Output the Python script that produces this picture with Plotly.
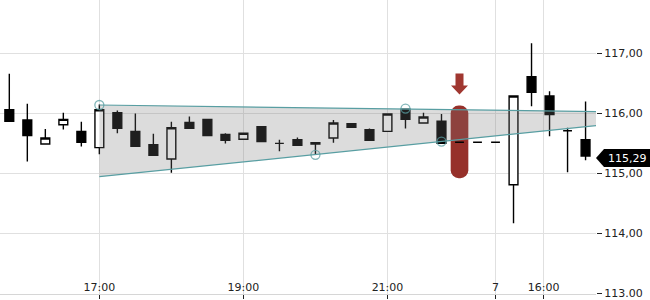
import plotly.graph_objects as go

# ---- data ----
opens  = [116.06, 115.89, 115.49, 115.81, 115.70, 115.43, 116.01, 115.70, 115.48, 115.24,
          115.85, 115.90, 115.65, 115.57, 115.78, 115.50, 115.56, 115.51, 115.59, 115.83,
          115.73, 115.70, 116.07, 115.84, 115.87, 115.52, 115.52, 115.52, 114.81, 116.61,
          116.29, 115.71, 115.56]
highs  = [116.66, 116.16, 115.74, 116.01, 115.86, 116.15, 116.05, 116.00, 115.66, 115.86,
          115.95, 115.90, 115.67, 115.67, 115.78, 115.56, 115.60, 115.51, 115.89, 115.83,
          115.75, 115.99, 116.07, 116.01, 115.99, 115.52, 115.52, 115.52, 116.29, 117.17,
          116.37, 115.76, 116.20]
lows   = [115.87, 115.20, 115.49, 115.73, 115.45, 115.32, 115.67, 115.45, 115.30, 115.01,
          115.75, 115.63, 115.50, 115.57, 115.53, 115.37, 115.46, 115.32, 115.51, 115.77,
          115.55, 115.70, 115.75, 115.84, 115.50, 115.52, 115.52, 115.52, 114.17, 116.12,
          115.62, 115.02, 115.22]
closes = [115.87, 115.63, 115.59, 115.90, 115.52, 116.06, 115.75, 115.45, 115.30, 115.76,
          115.75, 115.63, 115.55, 115.67, 115.53, 115.50, 115.47, 115.49, 115.84, 115.77,
          115.55, 115.99, 115.90, 115.94, 115.50, 115.52, 115.52, 115.52, 116.29, 116.35,
          115.98, 115.71, 115.29]

x_tick_pos = [5, 13, 21, 27, 29.67]
x_tick_text = ["17:00", "19:00", "21:00", "7", "16:00"]
y_tick_vals = [113, 114, 115, 116, 117]
y_tick_text = ["113.00", "114,00", "115,00", "116,00", "117,00"]

channel_x = [5, 33]
channel_top = [116.14, 116.028]
channel_bottom = [114.945, 115.81]

pivot_x = [5, 17, 22, 24]
pivot_y = [116.14, 115.31, 116.08, 115.53]

signal_x = [25]
signal_low = [114.92]
signal_high = [116.13]

last_price = closes[-1]
last_label = "115,29"

# ---- figure ----
idx = list(range(len(opens)))
fig = go.Figure()

# signal marker (rounded bar)
fig.add_trace(go.Bar(
    x=signal_x, y=[h - l for h, l in zip(signal_high, signal_low)], base=signal_low,
    width=0.98, marker=dict(color="rgb(150,48,42)", cornerradius=9, line=dict(width=0)),
    showlegend=False, hoverinfo="skip"))

# channel fill
fig.add_trace(go.Scatter(
    x=channel_x + channel_x[::-1], y=channel_top + channel_bottom[::-1],
    fill="toself", fillcolor="rgba(120,120,120,0.26)", line=dict(width=0),
    mode="lines", showlegend=False, hoverinfo="skip"))
for ys in (channel_top, channel_bottom):
    fig.add_trace(go.Scatter(x=channel_x, y=ys, mode="lines",
                             line=dict(color="rgb(88,158,162)", width=1.2),
                             showlegend=False, hoverinfo="skip"))

fig.add_trace(go.Candlestick(
    x=idx, open=opens, high=highs, low=lows, close=closes,
    increasing=dict(fillcolor="white", line=dict(color="black", width=1.4)),
    decreasing=dict(fillcolor="black", line=dict(color="black", width=1.4)),
    whiskerwidth=0, showlegend=False))

fig.add_trace(go.Scatter(
    x=pivot_x, y=pivot_y, mode="markers",
    marker=dict(size=9, color="rgba(0,0,0,0)",
                line=dict(color="rgba(88,158,162,0.75)", width=1.3)),
    showlegend=False, hoverinfo="skip"))

# down arrow above signal
fig.add_shape(type="path", xref="x", yref="y", xsizemode="pixel", ysizemode="pixel",
              xanchor=signal_x[0], yanchor=signal_high[0],
              path="M -4,32 L 4,32 L 4,20 L 8.5,20 L 0,11 L -8.5,20 L -4,20 Z",
              fillcolor="rgb(160,55,48)", line=dict(width=0), layer="above")

# last price label
fig.add_shape(type="path", xref="paper", yref="y", xsizemode="pixel", ysizemode="pixel",
              xanchor=1, yanchor=last_price,
              path="M 0,-2 L 8,7 L 60,7 L 60,-11 L 8,-11 Z",
              fillcolor="black", line=dict(width=0), layer="above")
fig.add_annotation(xref="paper", yref="y", x=1, y=last_price, xanchor="left",
                   yanchor="middle", xshift=10, yshift=-2, text=last_label,
                   showarrow=False, font=dict(family="DejaVu Sans", size=11, color="white"))

fig.update_layout(
    width=650, height=300,
    margin=dict(l=0, r=54, t=0, b=6),
    paper_bgcolor="white", plot_bgcolor="white",
    font=dict(family="DejaVu Sans", size=11, color="#222"),
    showlegend=False, boxgap=0.3,
    xaxis=dict(type="linear", range=[-0.517, 32.58], tickvals=x_tick_pos, ticktext=x_tick_text,
               showgrid=True, gridcolor="#e0e0e0", gridwidth=1, zeroline=False,
               showline=True, linecolor="#d6d6d6", ticks="outside", ticklen=4,
               tickcolor="#222", ticklabelstandoff=-21, ticklabeloverflow="allow",
               automargin=False, rangeslider=dict(visible=False)),
    yaxis=dict(side="right", range=[112.99, 117.89], tickvals=y_tick_vals, ticktext=y_tick_text,
               showgrid=True, gridcolor="#e0e0e0", gridwidth=1, zeroline=False,
               ticks="outside", ticklen=5, tickcolor="#222", ticklabeloverflow="allow",
               automargin=False),
)

fig.write_html("out.html")
